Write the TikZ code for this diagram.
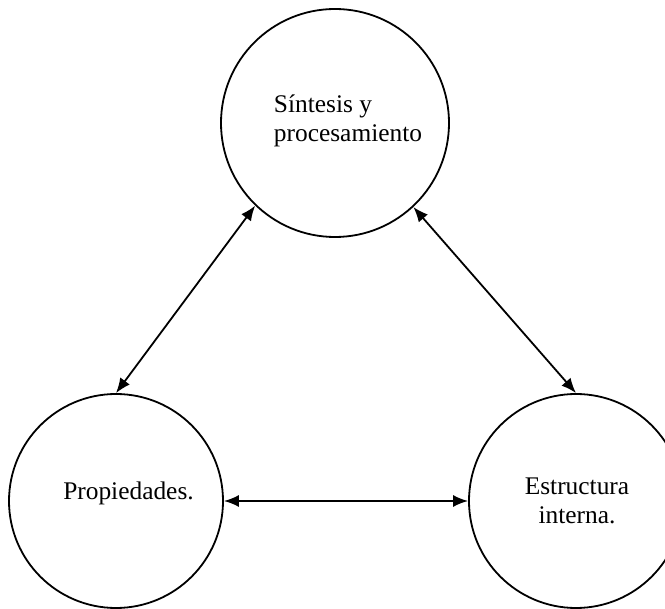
\documentclass[tikz,border=0pt]{standalone}
\usepackage{fontspec}
\setmainfont{Liberation Serif}
\usetikzlibrary{arrows.meta}
\usetikzlibrary{positioning}

\begin{document}
\begin{tikzpicture}[x=0.5pt, y=-0.5pt,
  bubble/.style={draw, line width=0.9pt, circle, inner sep=0pt},
  txt/.style={inner sep=0pt, font=\fontsize{12.7}{14.3}\selectfont},
  link/.style={line width=0.9pt, {Latex[length=7.5pt,width=6pt]}-{Latex[length=7.5pt,width=6pt]}}]
\useasboundingbox (0,0) rectangle (665,609);

%top circle
\node[bubble, minimum size=114pt] (sint) at (335,123) {};
\node[txt, align=left] (sinttext) at (348,121) {S\'intesis y\\procesamiento};

%bottom circles
\node[bubble, minimum size=107pt] (prop) at (116,501) {};
\node[txt] (proptext) at (128.5,493) {Propiedades.};
\node[bubble, minimum size=107pt] (estr) at (576,501) {};
\node[txt, align=center] (estrtext) at (577,501) {Estructura\\interna.};

%arrows
\draw[link] (sint.226) -- (prop.north);
\draw[link] (sint.313) -- (estr.north);
\draw[link] (prop.east) -- (estr.west);
\end{tikzpicture}
\end{document}
